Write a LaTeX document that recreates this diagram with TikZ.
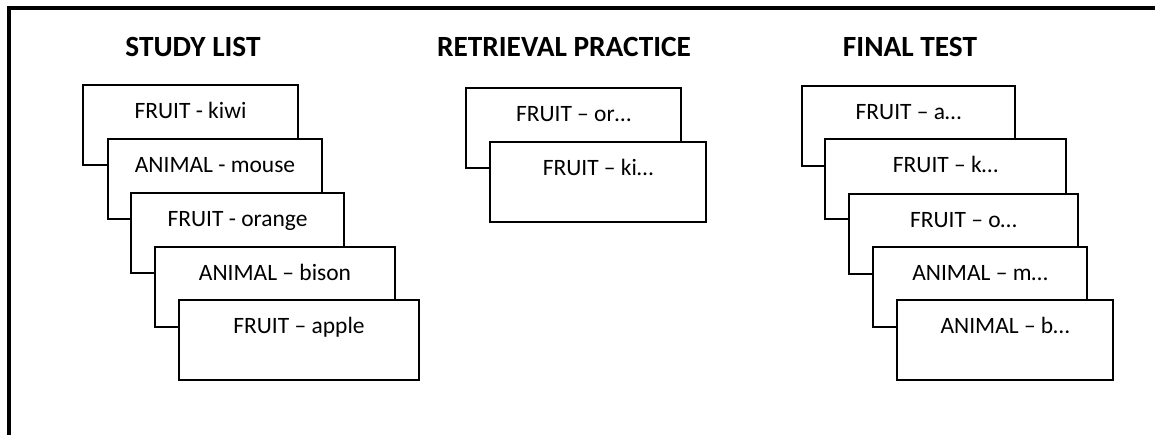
\documentclass[tikz,border=0pt]{standalone}
\usepackage{fontspec}
\setmainfont{Carlito}
\usepackage{tikz}

\begin{document}
\begin{tikzpicture}[x=0.75pt, y=-0.75pt,
    card/.style={draw, fill=white, line width=1.5pt, anchor=north west,
        inner xsep=0pt, inner ysep=0pt, minimum width=#1*0.75pt,
        text height=24.75pt, text depth=35.25pt,
        font=\fontsize{17.6}{20}\selectfont},
    heading/.style={anchor=base, font=\fontsize{22}{26}\selectfont\bfseries}]
    \useasboundingbox (0,0) rectangle (1155,435);

    % Outer frame
    \draw[line width=2.4pt] (1155,8) -- (9,8) -- (9,435);

    % Study list
    \node[heading] (studyhead) at (193,57) {STUDY LIST};
    \node[card=215] (study1) at (82,84) {FRUIT - kiwi};
    \node[card=214] (study2) at (107,138) {ANIMAL - mouse};
    \node[card=213] (study3) at (130,192) {FRUIT - orange};
    \node[card=240] (study4) at (154,246) {ANIMAL – bison};
    \node[card=240] (study5) at (178,299) {FRUIT – apple};

    % Retrieval practice
    \node[heading] (rphead) at (564,57) {RETRIEVAL PRACTICE};
    \node[card=215] (rp1) at (465,87) {FRUIT – or…};
    \node[card=216] (rp2) at (489,141) {FRUIT – ki…};

    % Final test
    \node[heading] (finalhead) at (910,57) {FINAL TEST};
    \node[card=213] (final1) at (801,85) {FRUIT – a…};
    \node[card=241] (final2) at (824,138) {FRUIT – k…};
    \node[card=229] (final3) at (848,193) {FRUIT – o…};
    \node[card=214] (final4) at (872,246) {ANIMAL – m…};
    \node[card=216] (final5) at (896,299) {ANIMAL – b…};
\end{tikzpicture}
\end{document}
